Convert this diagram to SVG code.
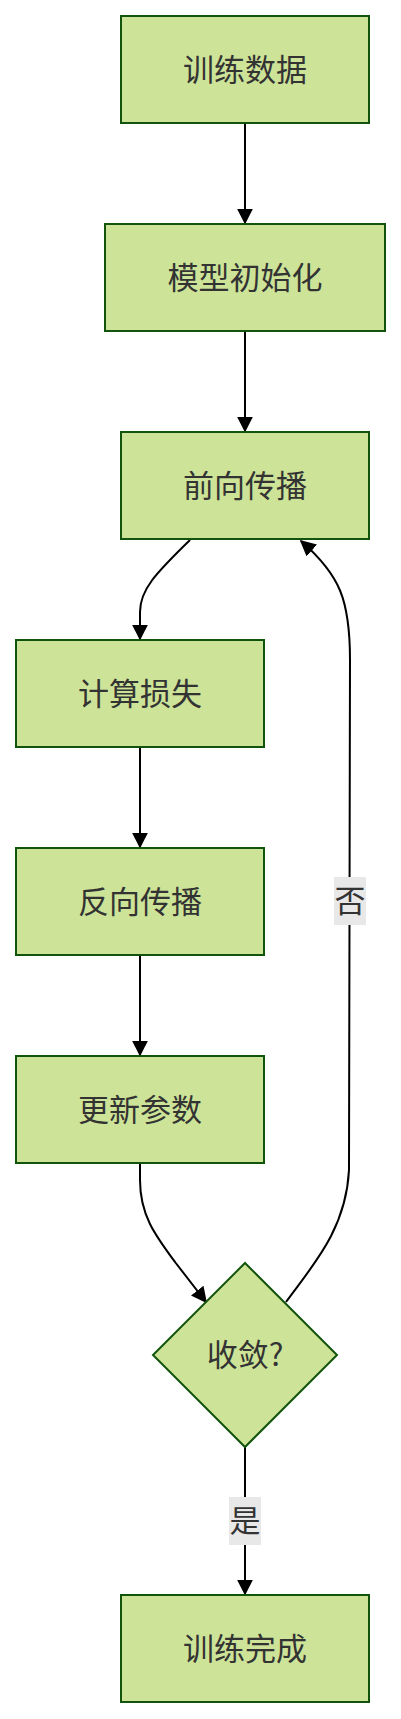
<svg xmlns="http://www.w3.org/2000/svg" width="401" height="1719" viewBox="0 0 401 1719">
<style>
.node rect,.node polygon{fill:#cde498;stroke:#13540c;stroke-width:2}
.node text,.lbl text{font-family:"Noto Sans CJK SC","Noto Sans",sans-serif;font-size:31px;fill:#333;text-anchor:middle}
.edge{fill:none;stroke:#000;stroke-width:2}
.lbl rect{fill:#e8e8e8}
</style>
<defs>
<marker id="arr" viewBox="0 0 10 10" refX="9" refY="5" markerWidth="16" markerHeight="16" markerUnits="userSpaceOnUse" orient="auto">
<path d="M0,0 L10,5 L0,10 z" fill="#000"/>
</marker>
</defs>
<g id="connectors">
<path class="edge" d="M245,123 L245,223" marker-end="url(#arr)"/>
<path class="edge" d="M245,331 L245,431" marker-end="url(#arr)"/>
<path class="edge" d="M190,540 C155,574 140,590 140,612 L140,639" marker-end="url(#arr)"/>
<path class="edge" d="M140,747 L140,847" marker-end="url(#arr)"/>
<path class="edge" d="M140,955 L140,1055" marker-end="url(#arr)"/>
<path class="edge" d="M140,1163 L140,1180 C140,1215 155,1235 175,1262 L206,1302" marker-end="url(#arr)"/>
<path class="edge" d="M286,1302 C312,1266 346,1230 349,1170 L350,660 C350,600 340,575 301,541" marker-end="url(#arr)"/>
<path class="edge" d="M245,1447 L245,1594" marker-end="url(#arr)"/>
<g class="lbl" id="label-no"><rect x="334" y="877" width="32" height="48"/><text x="350" y="912">否</text></g>
<g class="lbl" id="label-yes"><rect x="229" y="1497" width="32" height="48"/><text x="245" y="1532">是</text></g>
</g>
<g id="n1" class="node"><rect x="121" y="16" width="248" height="107"/><text x="245" y="80.5">训练数据</text></g>
<g id="n2" class="node"><rect x="105" y="224" width="280" height="107"/><text x="245" y="288.5">模型初始化</text></g>
<g id="n3" class="node"><rect x="121" y="432" width="248" height="107"/><text x="245" y="496.5">前向传播</text></g>
<g id="n4" class="node"><rect x="16" y="640" width="248" height="107"/><text x="140" y="704.5">计算损失</text></g>
<g id="n5" class="node"><rect x="16" y="848" width="248" height="107"/><text x="140" y="912.5">反向传播</text></g>
<g id="n6" class="node"><rect x="16" y="1056" width="248" height="107"/><text x="140" y="1120.5">更新参数</text></g>
<g id="n7" class="node"><polygon points="245,1263 337,1355 245,1447 153,1355"/><text x="245" y="1366">收敛?</text></g>
<g id="n8" class="node"><rect x="121" y="1595" width="248" height="107"/><text x="245" y="1659.5">训练完成</text></g>
</svg>
